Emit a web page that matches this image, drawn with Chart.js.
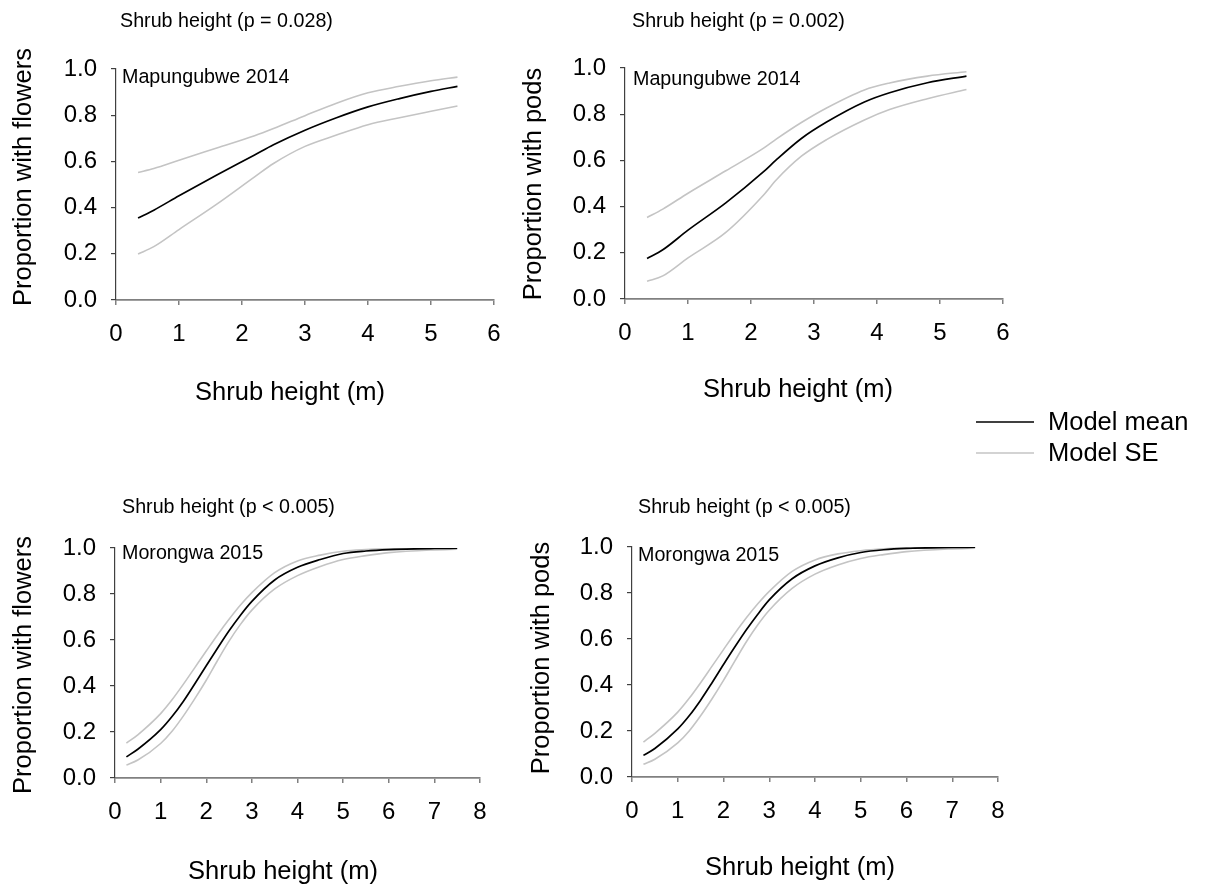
<!DOCTYPE html>
<html>
<head>
<meta charset="utf-8">
<script src="https://cdn.jsdelivr.net/npm/chart.js@4.4.0/dist/chart.umd.min.js"></script>
<style>
  body { margin: 0; background: #fff; }
  #wrap { position: relative; width: 1206px; height: 888px; overflow: hidden; }
  canvas { position: absolute; }
</style>
</head>
<body>
<div id="wrap">
  <canvas id="mapFlowers" width="520" height="470" style="left:0;top:0"></canvas>
  <canvas id="mapPods" width="686" height="470" style="left:520px;top:0"></canvas>
  <canvas id="morFlowers" width="520" height="418" style="left:0;top:470px"></canvas>
  <canvas id="morPods" width="520" height="418" style="left:520px;top:470px"></canvas>
</div>
<script>
// tick values
const propTicks = [0, 0.2, 0.4, 0.6, 0.8, 1.0];
const mapHeightTicks = [0, 1, 2, 3, 4, 5, 6];
const morHeightTicks = [0, 1, 2, 3, 4, 5, 6, 7, 8];

// Mapungubwe 2014 - flowers
const mapFlowerHeight = [0.35, 0.6, 1, 1.6, 2.2, 2.5, 3, 3.5, 4, 4.5, 5, 5.42];
const mapFlowerMean  = [0.355, 0.389, 0.451, 0.541, 0.628, 0.672, 0.735, 0.789, 0.836, 0.872, 0.903, 0.925];
const mapFlowerUpper = [0.552, 0.569, 0.605, 0.658, 0.711, 0.742, 0.798, 0.852, 0.897, 0.925, 0.949, 0.965];
const mapFlowerLower = [0.199, 0.231, 0.305, 0.415, 0.533, 0.591, 0.665, 0.714, 0.759, 0.789, 0.817, 0.840];

// Mapungubwe 2014 - pods
const mapPodHeight = [0.35, 0.6, 1, 1.6, 2.2, 2.4, 2.8, 3.2, 3.8, 4.2, 4.8, 5.42];
const mapPodMean  = [0.175, 0.213, 0.298, 0.416, 0.551, 0.602, 0.695, 0.766, 0.853, 0.893, 0.936, 0.965];
const mapPodUpper = [0.353, 0.389, 0.458, 0.555, 0.653, 0.692, 0.764, 0.827, 0.905, 0.935, 0.965, 0.984];
const mapPodLower = [0.077, 0.100, 0.178, 0.288, 0.450, 0.515, 0.618, 0.690, 0.775, 0.820, 0.867, 0.907];

// Morongwa 2015 - flowers
const morHeight = [0.25, 0.5, 1, 1.25, 1.5, 1.75, 2, 2.25, 2.5, 2.75, 3, 3.5, 4, 4.5, 5, 5.5, 6, 7, 7.5];
const morFlowerMean  = [0.092, 0.125, 0.210, 0.267, 0.334, 0.410, 0.488, 0.565, 0.640, 0.708, 0.768, 0.861, 0.916, 0.950, 0.976, 0.987, 0.993, 0.998, 0.999];
const morFlowerUpper = [0.152, 0.188, 0.280, 0.340, 0.408, 0.480, 0.552, 0.623, 0.690, 0.752, 0.806, 0.893, 0.944, 0.969, 0.986, 0.993, 0.997, 0.999, 0.9995];
const morFlowerLower = [0.056, 0.078, 0.150, 0.203, 0.270, 0.345, 0.425, 0.512, 0.595, 0.668, 0.730, 0.822, 0.880, 0.920, 0.950, 0.967, 0.980, 0.992, 0.995];

// Morongwa 2015 - pods
const morPodMean  = [0.094, 0.124, 0.209, 0.266, 0.334, 0.410, 0.489, 0.566, 0.640, 0.708, 0.770, 0.862, 0.918, 0.953, 0.976, 0.988, 0.994, 0.998, 0.999];
const morPodUpper = [0.152, 0.190, 0.282, 0.342, 0.410, 0.482, 0.554, 0.625, 0.692, 0.753, 0.807, 0.894, 0.944, 0.970, 0.984, 0.992, 0.996, 0.999, 0.9995];
const morPodLower = [0.055, 0.077, 0.148, 0.200, 0.266, 0.340, 0.420, 0.505, 0.588, 0.662, 0.725, 0.820, 0.882, 0.922, 0.950, 0.967, 0.980, 0.992, 0.995];

const FONT = '"Liberation Sans", Arial, sans-serif';
const MEAN_COLOR = '#000000';
const SE_COLOR = '#c4c4c4';

const toPoints = (xs, ys) => xs.map((x, i) => ({ x: x, y: ys[i] }));

// titles, panel label and axis captions drawn at fixed spots on each canvas
const panelText = {
  id: 'panelText',
  afterDraw(chart, args, opts) {
    const ctx = chart.ctx;
    ctx.save();
    ctx.fillStyle = '#000';
    ctx.textBaseline = 'middle';

    ctx.textAlign = 'left';
    ctx.font = '19.7px ' + FONT;
    ctx.fillText(opts.subtitle, opts.subtitleAt[0], opts.subtitleAt[1]);
    ctx.fillText(opts.site, opts.siteAt[0], opts.siteAt[1]);

    ctx.textAlign = 'center';
    ctx.font = '25.5px ' + FONT;
    ctx.fillText(opts.xTitle, opts.xTitleAt[0], opts.xTitleAt[1]);

    ctx.save();
    ctx.translate(opts.yTitleAt[0], opts.yTitleAt[1]);
    ctx.rotate(-Math.PI / 2);
    ctx.fillText(opts.yTitle, 0, 0);
    ctx.restore();

    if (opts.legendAt) {
      const [lx, ly] = opts.legendAt;
      const seen = [];
      chart.data.datasets.forEach(ds => {
        if (seen.includes(ds.label)) return;
        seen.push(ds.label);
      });
      seen.forEach((label, i) => {
        const ds = chart.data.datasets.find(d => d.label === label);
        const y = ly + i * 31;
        ctx.strokeStyle = ds.borderColor;
        ctx.lineWidth = 1.6;
        ctx.beginPath();
        ctx.moveTo(lx, y);
        ctx.lineTo(lx + 58, y);
        ctx.stroke();
        ctx.textAlign = 'left';
        ctx.font = '25.5px ' + FONT;
        ctx.fillText(label, lx + 72, y + 1);
      });
    }
    ctx.restore();
  }
};

function makePanel(id, cfg) {
  const canvas = document.getElementById(id);
  const W = canvas.width, H = canvas.height;
  const a = cfg.area;
  return new Chart(canvas, {
    type: 'line',
    data: {
      datasets: [
        { label: 'Model mean', data: toPoints(cfg.x, cfg.mean), borderColor: MEAN_COLOR, borderWidth: 1.7 },
        { label: 'Model SE', data: toPoints(cfg.x, cfg.upper), borderColor: SE_COLOR, borderWidth: 1.6 },
        { label: 'Model SE', data: toPoints(cfg.x, cfg.lower), borderColor: SE_COLOR, borderWidth: 1.6 }
      ]
    },
    options: {
      responsive: false,
      animation: false,
      events: [],
      layout: { padding: { left: 0, top: a.top, right: W - a.right, bottom: 0 } },
      elements: {
        point: { radius: 0 },
        line: { cubicInterpolationMode: 'monotone', fill: false }
      },
      plugins: {
        legend: { display: false },
        tooltip: { enabled: false },
        panelText: cfg.text
      },
      scales: {
        x: {
          type: 'linear',
          min: 0,
          max: cfg.xTicks[cfg.xTicks.length - 1],
          afterBuildTicks: s => { s.ticks = cfg.xTicks.map(v => ({ value: v })); },
          afterFit: s => { s.height = H - a.bottom; },
          grid: { drawOnChartArea: false, tickLength: 5, color: '#808080', lineWidth: 1.5 },
          border: { display: true, color: '#808080', width: 1.8 },
          ticks: { color: '#000', padding: 15, font: { family: FONT, size: 24 }, maxRotation: 0 }
        },
        y: {
          type: 'linear',
          min: 0,
          max: 1,
          afterBuildTicks: s => { s.ticks = propTicks.map(v => ({ value: v })); },
          afterFit: s => { s.width = a.left; },
          grid: { drawOnChartArea: false, tickLength: 5, color: '#404040', lineWidth: 1.2 },
          border: { display: true, color: '#404040', width: 1.2 },
          ticks: { color: '#000', padding: 14, font: { family: FONT, size: 24 }, callback: v => v.toFixed(1) }
        }
      }
    },
    plugins: [panelText]
  });
}

makePanel('mapFlowers', {
  x: mapFlowerHeight, mean: mapFlowerMean, upper: mapFlowerUpper, lower: mapFlowerLower,
  xTicks: mapHeightTicks,
  area: { left: 116, top: 69, right: 494, bottom: 300 },
  text: {
    subtitle: 'Shrub height (p = 0.028)', subtitleAt: [120, 22],
    site: 'Mapungubwe 2014', siteAt: [122, 78],
    xTitle: 'Shrub height (m)', xTitleAt: [290, 393],
    yTitle: 'Proportion with flowers', yTitleAt: [24, 177]
  }
});

makePanel('mapPods', {
  x: mapPodHeight, mean: mapPodMean, upper: mapPodUpper, lower: mapPodLower,
  xTicks: mapHeightTicks,
  area: { left: 105, top: 68, right: 483, bottom: 299 },
  text: {
    subtitle: 'Shrub height (p = 0.002)', subtitleAt: [112, 22],
    site: 'Mapungubwe 2014', siteAt: [113, 80],
    xTitle: 'Shrub height (m)', xTitleAt: [278, 390],
    yTitle: 'Proportion with pods', yTitleAt: [14, 184],
    legendAt: [456, 422]
  }
});

makePanel('morFlowers', {
  x: morHeight, mean: morFlowerMean, upper: morFlowerUpper, lower: morFlowerLower,
  xTicks: morHeightTicks,
  area: { left: 115, top: 78, right: 480, bottom: 308 },
  text: {
    subtitle: 'Shrub height (p < 0.005)', subtitleAt: [122, 38],
    site: 'Morongwa 2015', siteAt: [122, 84],
    xTitle: 'Shrub height (m)', xTitleAt: [283, 402],
    yTitle: 'Proportion with flowers', yTitleAt: [24, 195]
  }
});

makePanel('morPods', {
  x: morHeight, mean: morPodMean, upper: morPodUpper, lower: morPodLower,
  xTicks: morHeightTicks,
  area: { left: 112, top: 77, right: 478, bottom: 307 },
  text: {
    subtitle: 'Shrub height (p < 0.005)', subtitleAt: [118, 38],
    site: 'Morongwa 2015', siteAt: [118, 86],
    xTitle: 'Shrub height (m)', xTitleAt: [280, 398],
    yTitle: 'Proportion with pods', yTitleAt: [22, 188]
  }
});
</script>
</body>
</html>
